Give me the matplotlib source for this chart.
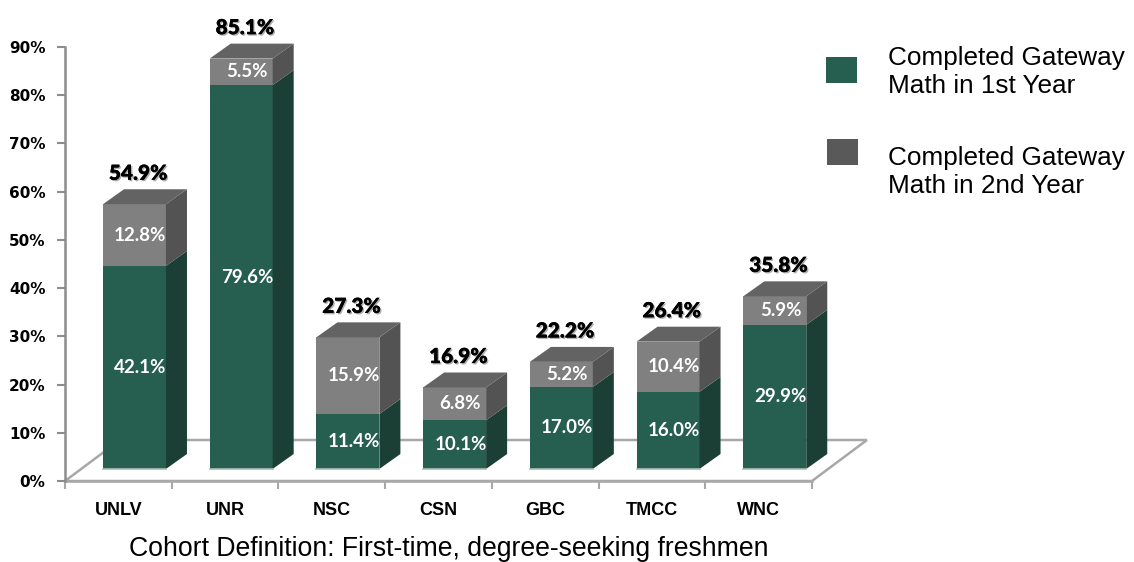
import numpy as np
import matplotlib
matplotlib.use("Agg")
import matplotlib.pyplot as plt
from matplotlib.patches import Polygon, Rectangle
import matplotlib.patheffects as pe

# data
schools = ["UNLV", "UNR", "NSC", "CSN", "GBC", "TMCC", "WNC"]
first_year = np.array([42.1, 79.6, 11.4, 10.1, 17.0, 16.0, 29.9])
second_year = np.array([12.8, 5.5, 15.9, 6.8, 5.2, 10.4, 5.9])
totals = np.array([54.9, 85.1, 27.3, 16.9, 22.2, 26.4, 35.8])
yticks = np.arange(0, 100, 10)

label_1st = "Completed Gateway\nMath in 1st Year"
label_2nd = "Completed Gateway\nMath in 2nd Year"
subtitle = "Cohort Definition: First-time, degree-seeking freshmen"

# colours
green_front = "#265e50"
green_side = "#1b3f34"
gray_front = "#808080"
gray_side = "#535353"
gray_top = "#636363"
floor_col = "#a8a8a8"

W, H = 1134, 562
fig = plt.figure(figsize=(W / 100, H / 100), dpi=100)
ax = fig.add_axes([65 / W, (H - 481) / H, 747 / W, 434 / H])
ax.set_xlim(0, 7)
ax.set_ylim(0, 90)

# 3d look
base = 2.5      # bars stand a bit behind the front edge of the floor
dx, dy = 0.197, 3.1
x_off, width = 0.356, 0.59
fdx, fdy = 0.515, 8.5

floor = Polygon([(0, 0), (7, 0), (7 + fdx, fdy), (fdx, fdy)], closed=True,
                facecolor="white", edgecolor=floor_col, lw=1.8, clip_on=False, zorder=1)
ax.add_patch(floor)

x = np.arange(len(schools)) + x_off
ax.bar(x, first_year, width=width, bottom=base, align="edge", color=green_front,
       zorder=3, clip_on=False)
ax.bar(x, second_year, width=width, bottom=base + first_year, align="edge",
       color=gray_front, zorder=3, clip_on=False)

for i in range(len(schools)):
    x1 = x[i] + width
    y0 = base
    y1 = base + first_year[i]
    y2 = y1 + second_year[i]
    ax.add_patch(Polygon([(x1, y0), (x1 + dx, y0 + dy), (x1 + dx, y1 + dy), (x1, y1)],
                         facecolor=green_side, edgecolor="none", zorder=3, clip_on=False))
    ax.add_patch(Polygon([(x1, y1), (x1 + dx, y1 + dy), (x1 + dx, y2 + dy), (x1, y2)],
                         facecolor=gray_side, edgecolor="none", zorder=3, clip_on=False))
    ax.add_patch(Polygon([(x[i], y2), (x[i] + dx, y2 + dy), (x1 + dx, y2 + dy), (x1, y2)],
                         facecolor=gray_top, edgecolor="none", zorder=3, clip_on=False))
    # a thin light edge at the foot of the bar
    ax.plot([x[i], x1], [y0, y0], color="#a9bdb3", lw=1.2, zorder=4, clip_on=False)

    cx = x[i] + 0.35
    ax.text(cx, y0 + first_year[i] / 2, f"{first_year[i]:.1f}%", color="white",
            family="Lato", weight="bold", fontsize=13.5, ha="center", va="center", zorder=5)
    ax.text(cx, y1 + second_year[i] / 2, f"{second_year[i]:.1f}%", color="white",
            family="Lato", weight="bold", fontsize=13.5, ha="center", va="center", zorder=5)
    ax.text(cx - 0.02, base + totals[i] + dy + 3.3, f"{totals[i]:.1f}%", color="black",
            family="Lato", weight="heavy", fontsize=15, ha="center", va="center",
            zorder=5, clip_on=False,
            path_effects=[pe.withSimplePatchShadow(offset=(1, -1), shadow_rgbFace="#999999", alpha=0.8),
                          pe.Normal()])

# axes
for s in ["top", "right"]:
    ax.spines[s].set_visible(False)
ax.spines["left"].set_color("#8c8c8c")
ax.spines["left"].set_linewidth(1.8)
ax.spines["bottom"].set_color(floor_col)
ax.spines["bottom"].set_linewidth(1.8)
ax.spines["bottom"].set_zorder(1)

ax.set_yticks(yticks)
ax.set_yticklabels([f"{v}%" for v in yticks], family="DejaVu Sans", weight="bold", fontsize=11)
ax.tick_params(axis="y", length=6, width=1.5, color="#8c8c8c", pad=8)

ax.set_xticks(np.arange(0, 8))
ax.set_xticklabels([])
ax.set_xticks(np.arange(len(schools)) + 0.5, minor=True)
ax.set_xticklabels(schools, minor=True, family="Liberation Sans", weight="bold", fontsize=13)
ax.tick_params(axis="x", which="major", length=6, width=1.5, color=floor_col)
ax.tick_params(axis="x", which="minor", length=0, pad=15)

fig.text(449 / W, 1 - 556 / H, subtitle, family="Liberation Sans", fontsize=19.2,
         ha="center", va="baseline")

# legend
for (lx, ly, col, lab, ty) in [(826, 57, green_front, label_1st, 72),
                               (827, 139, "#595959", label_2nd, 172)]:
    fig.add_artist(Rectangle((lx / W, 1 - (ly + 26) / H), 31 / W, 26 / H,
                             transform=fig.transFigure, facecolor=col, edgecolor="none"))
    fig.text(888 / W, 1 - ty / H, lab, family="Liberation Sans", fontsize=18.8,
             ha="left", va="center", linespacing=1.2)

fig.savefig("out.png", dpi=100)
